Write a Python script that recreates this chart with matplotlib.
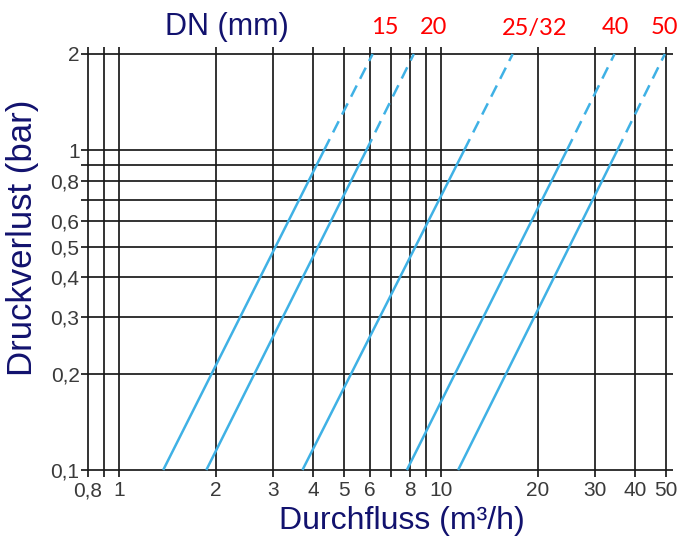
import matplotlib
matplotlib.use("Agg")
import matplotlib.pyplot as plt
import matplotlib.ticker as ticker
from matplotlib.transforms import blended_transform_factory

# grid / tick positions and their printed labels
X_GRID = [0.8, 0.9, 1, 2, 3, 4, 5, 6, 7, 8, 9, 10, 20, 30, 40, 50]
X_LABELS = ["0,8", "", "1", "2", "3", "4", "5", "6", "", "8", "", "10", "20", "30", "40", "50"]
Y_GRID = [0.1, 0.2, 0.3, 0.4, 0.5, 0.6, 0.7, 0.8, 0.9, 1, 2]
Y_LABELS = ["0,1", "0,2", "0,3", "0,4", "0,5", "0,6", "", "0,8", "", "1", "2"]

# pressure loss points (bar) and flow read for each DN curve (m3/h)
DP = [0.1, 1.0, 2.0]
DN_NAMES = ["15", "20", "25/32", "40", "50"]
FLOW = [
    [1.37, 4.33, 6.13],
    [1.865, 5.86, 8.23],
    [3.71, 11.8, 16.7],
    [7.83, 24.6, 34.6],
    [11.3, 35.3, 49.6],
]
DN_LABEL_X = [6.7, 9.5, 19.5, 34.8, 49.5]

NAVY = "#12126e"
BLUE = "#3fb1e5"
GRID = "#1a1a1a"

plt.rcParams["font.family"] = ["Liberation Sans", "DejaVu Sans"]

fig = plt.figure(figsize=(6.79, 5.36), dpi=100)
ax = fig.add_axes([81 / 679, 1 - 477 / 536, 592 / 679, 430 / 536])
ax.set_xscale("log")
ax.set_yscale("log")

# grid lines run a few pixels past the labelled range on every side
ext_x = 10 ** (7 / 321)
ext_y = 10 ** (7 / 320)
ax.set_xlim(X_GRID[0] / ext_x, X_GRID[-1] * ext_x)
ax.set_ylim(Y_GRID[0] / ext_y, Y_GRID[-1] * ext_y)

for x in X_GRID:
    ax.axvline(x, color=GRID, linewidth=1.25, zorder=1)
for y in Y_GRID:
    ax.axhline(y, color=GRID, linewidth=1.25, zorder=1)

for q in FLOW:
    ax.plot(q[:2], DP[:2], color=BLUE, linewidth=1.8, zorder=3,
            solid_capstyle="butt")
    ax.plot(q[1:], DP[1:], color=BLUE, linewidth=1.8, zorder=3,
            dashes=(5, 3), dash_capstyle="butt")

ax.xaxis.set_major_locator(ticker.FixedLocator(X_GRID))
ax.xaxis.set_major_formatter(ticker.FixedFormatter(X_LABELS))
ax.xaxis.set_minor_locator(ticker.NullLocator())
ax.yaxis.set_major_locator(ticker.FixedLocator(Y_GRID))
ax.yaxis.set_major_formatter(ticker.FixedFormatter(Y_LABELS))
ax.yaxis.set_minor_locator(ticker.NullLocator())
ax.tick_params(length=0, labelsize=15, labelcolor="#3a3a3a")
ax.tick_params(axis="x", pad=3)
ax.tick_params(axis="y", pad=1)
for s in ax.spines.values():
    s.set_visible(False)

# DN labels along the top
trans = blended_transform_factory(ax.transData, fig.transFigure)
for name, x in zip(DN_NAMES, DN_LABEL_X):
    ax.text(x, 1 - 28 / 536, name, transform=trans, color="#ff0000",
            fontsize=17, ha="center", va="center", family=["Lato", "DejaVu Sans"])

fig.text(227 / 679, 1 - 27 / 536, "DN (mm)", color=NAVY, fontsize=22,
         ha="center", va="center")
fig.text(402 / 679, 1 - 521 / 536, "Durchfluss (m³/h)", color=NAVY,
         fontsize=23, ha="center", va="center")
fig.text(23 / 679, 1 - 238 / 536, "Druckverlust (bar)", color=NAVY,
         fontsize=25, ha="center", va="center", rotation=90)

fig.savefig("out.png", dpi=100)
